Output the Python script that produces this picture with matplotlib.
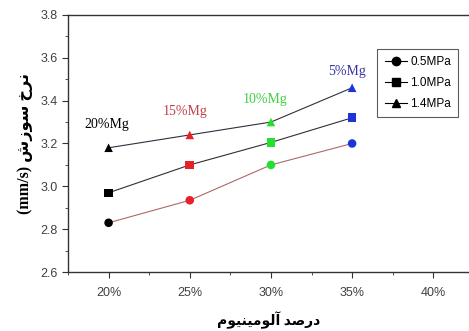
import matplotlib
matplotlib.use("Agg")
import matplotlib.pyplot as plt
from matplotlib.ticker import MultipleLocator, FuncFormatter

# aluminium content (%) and burning rate (mm/s) per pressure
al_pct = [20, 25, 30, 35]
rate_05 = [2.83, 2.935, 3.10, 3.20]
rate_10 = [2.97, 3.10, 3.205, 3.32]
rate_14 = [3.18, 3.24, 3.30, 3.46]
series_labels = ["0.5MPa", "1.0MPa", "1.4MPa"]

mg_labels = ["20%Mg", "15%Mg", "10%Mg", "5%Mg"]
point_colors = ["black", "#e8202a", "#22e030", "#1a35d8"]
mg_colors = ["black", "#c0404a", "#40d040", "#3535a0"]

# Persian labels written in presentation forms (visual order)
ylabel = "(mm/s) \uFEB5\uFEAF\uFEEE\uFEB3 \uFEA5\uFEAE\uFEE7"
xlabel = "\uFEE1\uFEEE\uFEF4\uFEE8\uFEF4\uFEE3\uFEEE\uFEDF\uFE81 \uFEAA\uFEBB\uFEAD\uFEA9"

fig = plt.figure(figsize=(4.69, 3.31), dpi=100)
ax = fig.add_axes([0.145, 0.178, 0.855, 0.777])

line_colors = ["#b06868", "#303030", "#303040"]
markers = ["o", "s", "^"]
for vals, lab, lc, mk in zip([rate_05, rate_10, rate_14], series_labels, line_colors, markers):
    ax.plot(al_pct, vals, color=lc, lw=0.8, zorder=2)
    ax.scatter(al_pct, vals, marker=mk, c=point_colors, s=38, zorder=3, linewidths=0)
    ax.plot([], [], color="black", lw=0.8, marker=mk, markersize=6, label=lab)

# composition notes above the 1.4MPa points
note_offsets = [(-1, 16.5), (-3, 16.5), (-4, 16), (-4, 11.5)]
for x, y, txt, c, off in zip(al_pct, rate_14, mg_labels, mg_colors, note_offsets):
    ax.annotate(txt, (x, y), xytext=off, textcoords="offset points",
                ha="center", va="center", color=c, fontsize=10,
                family="Liberation Serif")

ax.set_xlim(17.5, 42.2)
ax.set_ylim(2.6, 3.8)
ax.xaxis.set_major_locator(MultipleLocator(5))
ax.xaxis.set_minor_locator(MultipleLocator(2.5))
ax.yaxis.set_major_locator(MultipleLocator(0.2))
ax.yaxis.set_minor_locator(MultipleLocator(0.1))
ax.xaxis.set_major_formatter(FuncFormatter(lambda v, p: "%d%%" % v))
ax.yaxis.set_major_formatter(FuncFormatter(lambda v, p: "%.1f" % v))
ax.tick_params(which="both", direction="out", colors="#333333",
               labelsize=9, labelcolor="#404040")
ax.tick_params(which="major", length=4)
ax.tick_params(which="minor", length=2.5)
for lab in ax.get_xticklabels() + ax.get_yticklabels():
    lab.set_family("Liberation Sans")
ax.xaxis.set_tick_params(pad=7)

ax.spines["right"].set_visible(False)
for s in ["left", "bottom", "top"]:
    ax.spines[s].set_color("#333333")
    ax.spines[s].set_linewidth(1.0)

ax.set_xlabel(xlabel, fontsize=10, fontweight="bold",
              family=["Liberation Serif", "DejaVu Sans"], labelpad=9)
ax.set_ylabel(ylabel, fontsize=11.5, fontweight="bold",
              family=["Liberation Serif", "DejaVu Sans"], labelpad=5)

leg = ax.legend(loc="upper left", bbox_to_anchor=(0.757, 0.89), frameon=True,
                fancybox=False, edgecolor="#333333",
                prop={"family": "Liberation Sans", "size": 8.5},
                handlelength=1.9, borderpad=0.6, labelspacing=0.75, handletextpad=0.3)
leg.get_frame().set_linewidth(0.8)

fig.savefig("out.png", dpi=100)
